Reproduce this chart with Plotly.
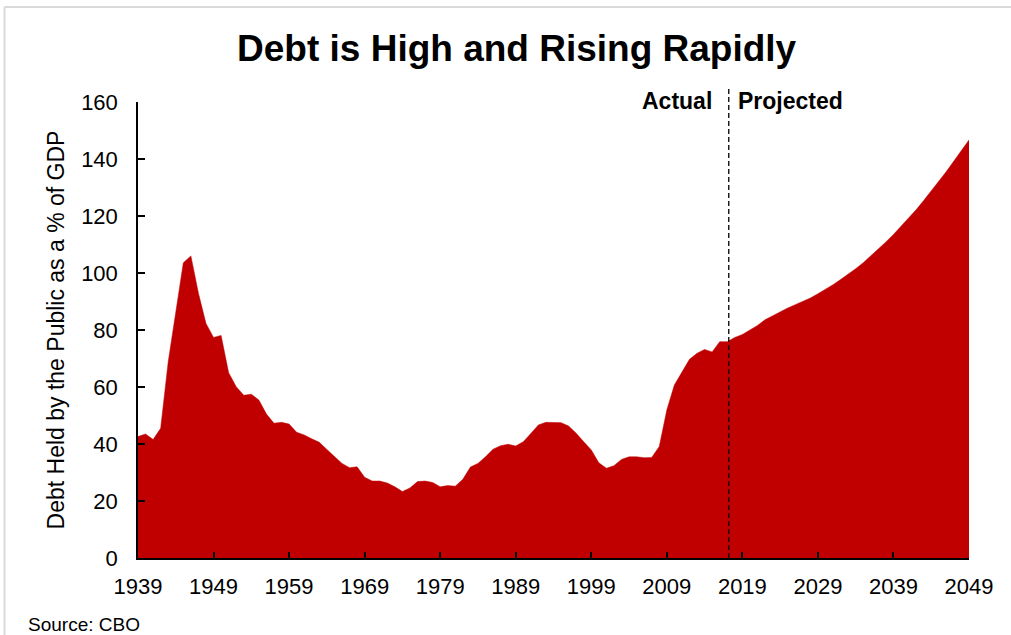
import plotly.graph_objects as go

years = list(range(1939, 2050))
actual_debt = [
    42.6, 43.5, 41.6, 45.5, 68.9, 86.0, 103.6, 106.0, 92.9, 82.3,   # 1939-1948
    77.4, 78.1, 65.0, 60.1, 57.1, 57.5, 55.4, 50.5, 47.3, 47.6,     # 1949-1958
    47.0, 44.1, 43.2, 41.8, 40.6, 38.1, 35.8, 33.2, 31.7, 32.0,     # 1959-1968
    28.3, 27.0, 27.0, 26.3, 25.0, 23.3, 24.6, 26.8, 27.0, 26.5,     # 1969-1978
    25.0, 25.4, 25.2, 27.6, 31.9, 33.2, 35.5, 38.2, 39.4, 39.9,     # 1979-1988
    39.3, 40.8, 43.7, 46.7, 47.6, 47.6, 47.5, 46.3, 43.8, 40.8,     # 1989-1998
    37.9, 33.4, 31.5, 32.4, 34.6, 35.5, 35.5, 35.2, 35.3, 39.1,     # 1999-2008
    51.9, 60.7, 65.4, 69.7, 71.8, 73.2, 72.3, 75.9, 75.9, 77.4,     # 2009-2018
]
projected_debt = [
    78.4, 80.0, 81.6, 83.6, 85.0, 86.4, 87.7, 88.9, 90.1, 91.2,     # 2019-2028
    92.7, 94.2, 95.9, 97.7, 99.5, 101.5, 103.6, 106.0, 108.2, 110.9, # 2029-2038
    113.5, 116.3, 119.2, 122.2, 125.4, 128.7, 132.1, 135.6, 139.3, 143.0, # 2039-2048
    146.7,                                                          # 2049
]
debt = actual_debt + projected_debt
x_ticks = list(range(1939, 2050, 10))
y_ticks = list(range(0, 161, 20))
divider_year = 2017.2

FONT = "Liberation Sans, Arial, sans-serif"
RED = "#C00000"

# plot area in pixels (for placing paper-referenced items)
L, R, T, B = 138, 42, 102, 77
PW, PH = 1011 - L - R, 635 - T - B


def px_x(px):
    return (px - L) / PW


def px_y(py):
    return (635 - B - py) / PH


fig = go.Figure()
fig.add_trace(go.Scatter(
    x=years, y=debt, mode="lines", fill="tozeroy",
    line=dict(color=RED, width=0.5), fillcolor=RED,
    hoverinfo="x+y", showlegend=False,
))

# divider line
fig.add_shape(type="line", xref="x", yref="paper", x0=divider_year, x1=divider_year,
              y0=0, y1=px_y(87), line=dict(color="black", width=1.3, dash="5px,3px"))

# slide frame
fig.add_shape(type="line", xref="paper", yref="paper", x0=px_x(4.5), x1=px_x(4.5),
              y0=px_y(640), y1=px_y(7), line=dict(color="#d9d9d9", width=2))
fig.add_shape(type="line", xref="paper", yref="paper", x0=px_x(4.5), x1=px_x(1015),
              y0=px_y(7), y1=px_y(7), line=dict(color="#d9d9d9", width=2))

fig.add_annotation(x=divider_year, y=px_y(101), xref="x", yref="paper", text="<b>Actual</b>",
                   xanchor="right", yanchor="middle", showarrow=False, xshift=-15,
                   font=dict(family=FONT, size=23, color="black"))
fig.add_annotation(x=divider_year, y=px_y(101), xref="x", yref="paper", text="<b>Projected</b>",
                   xanchor="left", yanchor="middle", showarrow=False, xshift=7,
                   font=dict(family=FONT, size=23, color="black"))
fig.add_annotation(x=px_x(26), y=px_y(624), xref="paper", yref="paper", text="Source: CBO",
                   showarrow=False, xanchor="left", yanchor="middle",
                   font=dict(family=FONT, size=19, color="black"))

fig.update_layout(
    width=1011, height=635,
    margin=dict(l=L, r=R, t=T, b=B),
    paper_bgcolor="white", plot_bgcolor="white",
    title=dict(text="<b>Debt is High and Rising Rapidly</b>", x=0.511, xanchor="center",
               y=1 - 48 / 635, yanchor="middle",
               font=dict(family=FONT, size=37, color="black")),
    font=dict(family=FONT, size=22, color="black"),
    xaxis=dict(range=[1939, 2049], tickvals=x_ticks, ticks="inside", ticklen=6, tickwidth=2,
               tickcolor="black", showline=True, linecolor="black", linewidth=2,
               showgrid=False, zeroline=False, tickfont=dict(size=22), ticklabelstandoff=8),
    yaxis=dict(range=[0, 160], tickvals=y_ticks, ticks="inside", ticklen=7, tickwidth=2,
               tickcolor="black", showline=True, linecolor="black", linewidth=1.5,
               showgrid=False, zeroline=False, tickfont=dict(size=22), ticklabelstandoff=14,
               title=dict(text="Debt Held by the Public as a % of GDP", font=dict(size=23),
                          standoff=10)),
)

fig.write_html("out.html", config={"displayModeBar": False},
               post_script="document.body.style.margin='0';document.body.style.overflow='hidden';")
